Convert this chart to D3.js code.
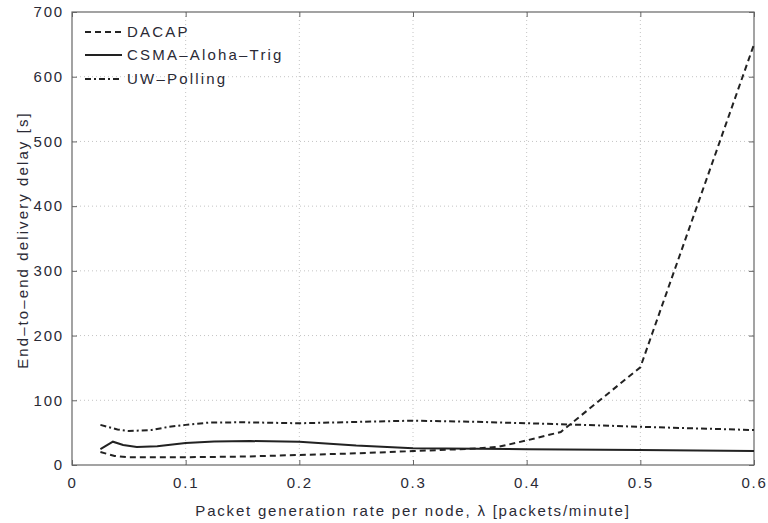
<!DOCTYPE html>
<html><head><meta charset="utf-8">
<script src="https://cdn.jsdelivr.net/npm/d3@7"></script>
<style>
body{margin:0;background:#fff;}
text{font-family:"Liberation Sans",Arial,sans-serif;fill:#2a2a35;}
</style></head>
<body><svg id="c" width="768" height="523"></svg>
<script>
const xTicks=[0,0.1,0.2,0.3,0.4,0.5,0.6];
const yTicks=[0,100,200,300,400,500,600,700];
const seriesNames=["DACAP","CSMA–Aloha–Trig","UW–Polling"];
const dacapX=[0.025,0.0375,0.05,0.1,0.15,0.2,0.25,0.3,0.35,0.375,0.4,0.43,0.5,0.6];
const dacapY=[20,14,12,12,13,15.5,18,21.5,25,28,38,51,151,650];
const csmaX=[0.025,0.036,0.045,0.057,0.075,0.1,0.125,0.157,0.2,0.25,0.3,0.4,0.5,0.6];
const csmaY=[24.5,36,31,28,29,34,36.5,37,36,30,26,24.5,23,21.5];
const uwX=[0.025,0.04,0.05,0.07,0.085,0.1,0.12,0.15,0.2,0.25,0.3,0.35,0.4,0.45,0.5,0.55,0.6];
const uwY=[62,55,52.5,54,59,62,65.5,66,64.5,66.5,68.5,67,64.5,62,59,56.5,54];

const svg=d3.select("#c");
const L=72,R=754,T=12,B=465;
const x=d3.scaleLinear().domain([0,0.6]).range([L,R]);
const y=d3.scaleLinear().domain([0,700]).range([B,T]);

// grid
const g=svg.append("g");
g.selectAll(".gx").data(xTicks.slice(1,-1)).enter().append("line")
 .attr("x1",d=>x(d)).attr("x2",d=>x(d)).attr("y1",T).attr("y2",B)
 .attr("stroke","#c4c4c4").attr("stroke-width",1).attr("stroke-dasharray","1,3");
g.selectAll(".gy").data(yTicks.slice(1,-1)).enter().append("line")
 .attr("y1",d=>y(d)).attr("y2",d=>y(d)).attr("x1",L).attr("x2",R)
 .attr("stroke","#c4c4c4").attr("stroke-width",1).attr("stroke-dasharray","1,3");

// axes with inward ticks
const ax=svg.append("g").attr("transform",`translate(0,${B})`)
 .call(d3.axisBottom(x).tickValues(xTicks).tickSize(-5).tickPadding(12).tickFormat(d=>d===0?"0":d3.format(".1f")(d)));
const axT=svg.append("g").attr("transform",`translate(0,${T})`)
 .call(d3.axisTop(x).tickValues(xTicks).tickSize(-5).tickFormat(""));
const ay=svg.append("g").attr("transform",`translate(${L},0)`)
 .call(d3.axisLeft(y).tickValues(yTicks).tickSize(-5).tickPadding(8));
const ayR=svg.append("g").attr("transform",`translate(${R},0)`)
 .call(d3.axisRight(y).tickValues(yTicks).tickSize(-5).tickFormat(""));
[ax,axT,ay,ayR].forEach(a=>{a.select(".domain").remove();a.selectAll("line").attr("stroke","#666");});
svg.selectAll(".tick text").attr("font-size","15px").attr("letter-spacing","1.8px").attr("fill","#2a2a35");
svg.append("rect").attr("x",L).attr("y",T).attr("width",R-L).attr("height",B-T)
 .attr("fill","none").attr("stroke","#666").attr("stroke-width",1.2);

const line=d3.line().x(d=>x(d[0])).y(d=>y(d[1]));
const styles=[
 {dash:"6,4",w:2},
 {dash:null,w:2},
 {dash:"6,3,2,3",w:2}
];
const data=[d3.zip(dacapX,dacapY),d3.zip(csmaX,csmaY),d3.zip(uwX,uwY)];
data.forEach((d,i)=>{
 svg.append("path").datum(d).attr("d",line).attr("fill","none")
  .attr("stroke","#222").attr("stroke-width",styles[i].w)
  .attr("stroke-dasharray",styles[i].dash);
});

// legend
const legY=[32,55,79];
seriesNames.forEach((n,i)=>{
 svg.append("line").attr("x1",85).attr("x2",122).attr("y1",legY[i]).attr("y2",legY[i])
  .attr("stroke","#222").attr("stroke-width",2).attr("stroke-dasharray",styles[i].dash);
 svg.append("text").attr("x",127).attr("y",legY[i]+5).attr("font-size","15px")
  .attr("letter-spacing","2.2px").text(n);
});

// axis titles
svg.append("text").attr("x",(L+R)/2).attr("y",516).attr("text-anchor","middle")
 .attr("font-size","15px").attr("letter-spacing","1.8px")
 .text("Packet generation rate per node, λ [packets/minute]");
svg.append("text").attr("transform","translate(28,240) rotate(-90)").attr("text-anchor","middle")
 .attr("font-size","15px").attr("letter-spacing","2.1px")
 .text("End–to–end delivery delay [s]");
</script></body></html>
